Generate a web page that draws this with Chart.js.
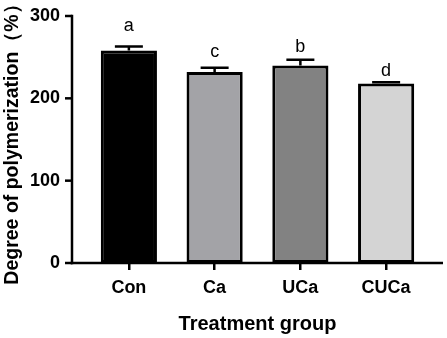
<!DOCTYPE html>
<html>
<head>
<meta charset="utf-8">
<script src="https://cdn.jsdelivr.net/npm/chart.js@4"></script>
<style>
  html, body { margin: 0; padding: 0; background: #fff; }
  #wrap { width: 447px; height: 338px; }
</style>
</head>
<body>
<div id="wrap"><canvas id="dpChart" width="447" height="338"></canvas></div>
<script>
// Data
const groups = ["Con", "Ca", "UCa", "CUCa"];
const meanValues = [258, 232, 240, 218];
const errValues = [5, 5, 7, 1.5];
const sigLetters = ["a", "c", "b", "d"];
const yTickValues = [0, 100, 200, 300];

// Styling
const barFills = ["#000000", "#a3a3a7", "#828282", "#d4d4d4"];
const letterGap = [15, 11, 8, 6]; // px between cap and letter baseline
const FONT = "'Liberation Sans', Arial, Helvetica, sans-serif";

// Draws the axis lines (GraphPad-style, extending past the bars), error bars and letters
const prismDecor = {
    id: "prismDecor",
    afterDatasetsDraw(chart) {
        const ctx = chart.ctx;
        const x = chart.scales.x;
        const y = chart.scales.y;
        const axisX = 72;
        const zeroY = y.getPixelForValue(0);

        ctx.save();
        ctx.strokeStyle = "#000";
        ctx.lineWidth = 2.5;
        ctx.lineCap = "butt";

        // y axis line
        ctx.beginPath();
        ctx.moveTo(axisX, y.getPixelForValue(300) - 1.25);
        ctx.lineTo(axisX, zeroY + 1.25);
        ctx.stroke();

        // y tick marks
        yTickValues.forEach((v) => {
            const py = y.getPixelForValue(v);
            ctx.beginPath();
            ctx.moveTo(axisX - 7, py);
            ctx.lineTo(axisX, py);
            ctx.stroke();
        });

        // x axis line
        ctx.beginPath();
        ctx.moveTo(axisX - 1.25, zeroY);
        ctx.lineTo(443, zeroY);
        ctx.stroke();

        // error bars (upper half only) and letters
        ctx.fillStyle = "#000";
        ctx.font = "18px " + FONT;
        ctx.textAlign = "center";
        ctx.textBaseline = "alphabetic";
        meanValues.forEach((m, i) => {
            const cx = x.getPixelForValue(i);
            const top = y.getPixelForValue(m);
            const cap = y.getPixelForValue(m + errValues[i]);
            ctx.beginPath();
            ctx.moveTo(cx, top);
            ctx.lineTo(cx, cap);
            ctx.moveTo(cx - 14, cap);
            ctx.lineTo(cx + 14, cap);
            ctx.stroke();
            ctx.fillText(sigLetters[i], cx, cap - letterGap[i]);
        });
        ctx.restore();
    },
};

const ctx = document.getElementById("dpChart").getContext("2d");
new Chart(ctx, {
    type: "bar",
    data: {
        labels: groups,
        datasets: [
            {
                label: "Degree of polymerization",
                data: meanValues,
                backgroundColor: barFills,
                borderColor: "#000",
                borderWidth: 3,
                borderSkipped: false,
                categoryPercentage: 1,
                barPercentage: 0.655,
            },
        ],
    },
    options: {
        responsive: false,
        animation: false,
        devicePixelRatio: 1,
        layout: { padding: { top: 16, right: 18, left: 0, bottom: 0 } },
        plugins: {
            legend: { display: false },
            tooltip: { enabled: false },
        },
        scales: {
            x: {
                grid: {
                    display: true,
                    drawOnChartArea: false,
                    drawTicks: true,
                    tickLength: 7,
                    lineWidth: 2.5,
                    color: "#000",
                    offset: false,
                },
                border: { display: false },
                ticks: {
                    color: "#000",
                    padding: 7,
                    maxRotation: 0,
                    font: { family: FONT, size: 18, weight: "bold" },
                },
                title: {
                    display: true,
                    text: "Treatment group",
                    color: "#000",
                    padding: { top: 4, bottom: 2 },
                    font: { family: FONT, size: 20, weight: "bold" },
                },
                afterFit(scale) {
                    scale.height = 75;
                },
            },
            y: {
                min: 0,
                max: 300,
                grid: { display: false, drawTicks: false },
                border: { display: false },
                ticks: {
                    stepSize: 100,
                    color: "#000",
                    padding: 26,
                    font: { family: FONT, size: 18, weight: "bold" },
                },
                title: {
                    display: true,
                    text: "Degree of polymerization（%）",
                    color: "#000",
                    padding: { top: 1, bottom: 0 },
                    font: { family: FONT, size: 19.5, weight: "bold" },
                },
                afterFit(scale) {
                    scale.width = 86;
                    scale.paddingTop = 0;
                    scale.paddingBottom = 0;
                },
            },
        },
    },
    plugins: [prismDecor],
});
</script>
</body>
</html>
